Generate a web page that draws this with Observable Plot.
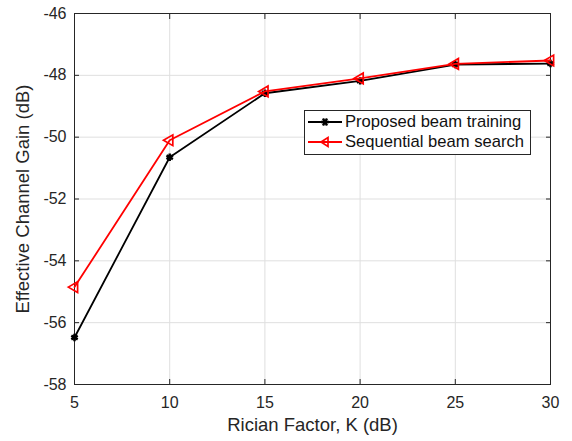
<!DOCTYPE html>
<html><head><meta charset="utf-8">
<script src="https://cdn.jsdelivr.net/npm/d3@7"></script>
<script src="https://cdn.jsdelivr.net/npm/@observablehq/plot@0.6"></script>
<style>
body{margin:0;background:#fff;font-family:"Liberation Sans",Arial,sans-serif;}
#wrap{position:relative;width:572px;height:441px;}
#legend{position:absolute;left:304px;top:110px;width:227px;height:45px;border:1px solid #262626;background:#fff;box-sizing:border-box;font-size:16.6px;color:#111;}
#legend div{display:flex;align-items:center;height:20px;line-height:20px;}
</style></head>
<body><div id="wrap"><div id="chart"></div><div id="legend"></div></div>
<script>
const kValues = [5, 10, 15, 20, 25, 30];
const proposed = [-56.48, -50.65, -48.58, -48.18, -47.65, -47.62];
const sequential = [-54.85, -50.1, -48.52, -48.1, -47.63, -47.52];
const xTicks = [5, 10, 15, 20, 25, 30];
const yTicks = [-58, -56, -54, -52, -50, -48, -46];
const xLabel = "Rician Factor, K (dB)";
const yLabel = "Effective Channel Gain (dB)";
const seriesNames = ["Proposed beam training", "Sequential beam search"];
const seriesColors = ["#000000", "#ff0000"];

const dataP = kValues.map((k, i) => ({k, v: proposed[i]}));
const dataS = kValues.map((k, i) => ({k, v: sequential[i]}));

const fmt = d => String(d);
const chart = Plot.plot({
  width: 572, height: 441,
  marginLeft: 74, marginRight: 22, marginTop: 13, marginBottom: 57,
  style: {fontFamily: "Liberation Sans, Arial, sans-serif", fontSize: "16px", color: "#262626", background: "#fff"},
  x: {domain: [5, 30], ticks: xTicks},
  y: {domain: [-58, -46], ticks: yTicks},
  marks: [
    Plot.gridX(xTicks, {stroke: "#dfdfdf", strokeOpacity: 1}),
    Plot.gridY(yTicks, {stroke: "#dfdfdf", strokeOpacity: 1}),
    Plot.axisX(xTicks, {anchor: "bottom", tickSize: -5, tickPadding: 17, tickFormat: fmt, label: null, fontSize: 16}),
    Plot.axisX(xTicks, {anchor: "top", tickSize: -5, tickFormat: () => "", label: null}),
    Plot.axisY(yTicks, {anchor: "left", tickSize: -5, tickPadding: 13, tickFormat: fmt, label: null, fontSize: 16}),
    Plot.axisY(yTicks, {anchor: "right", tickSize: -5, tickFormat: () => "", label: null}),
    Plot.text([xLabel], {frameAnchor: "bottom", dy: 46, fontSize: 18.5, fill: "#262626"}),
    Plot.text([yLabel], {frameAnchor: "left", textAnchor: "middle", dx: -51, rotate: -90, fontSize: 18.5, fill: "#262626"}),
    Plot.frame({stroke: "#262626", strokeWidth: 1}),
    Plot.line(dataP, {x: "k", y: "v", stroke: seriesColors[0], strokeWidth: 1.8}),
    Plot.dot(dataP, {x: "k", y: "v", symbol: "asterisk", r: 3.5, stroke: seriesColors[0], strokeWidth: 2.5}),
    Plot.line(dataS, {x: "k", y: "v", stroke: seriesColors[1], strokeWidth: 1.8}),
    Plot.dot(dataS, {x: "k", y: "v", symbol: "triangle", r: 4, rotate: -90, stroke: seriesColors[1], fill: "none", strokeWidth: 1.7})
  ]
});
document.getElementById("chart").appendChild(chart);

const legend = document.getElementById("legend");
seriesNames.forEach((name, i) => {
  const row = document.createElement("div");
  const sym = i === 0
    ? `<path d="M-4,0L4,0M-2,-3.5L2,3.5M-2,3.5L2,-3.5" stroke="#000" stroke-width="2.5"/>`
    : `<path d="M-4,0L3,-4.5L3,4.5Z" fill="none" stroke="#f00" stroke-width="1.7"/>`;
  row.innerHTML = `<svg width="40" height="20" style="flex:none"><g transform="translate(20,10)"><line x1="-17" x2="17" stroke="${seriesColors[i]}" stroke-width="1.8"/>${sym}</g></svg><span>${name}</span>`;
  legend.appendChild(row);
});
legend.style.paddingTop = "1px";
</script></body></html>
